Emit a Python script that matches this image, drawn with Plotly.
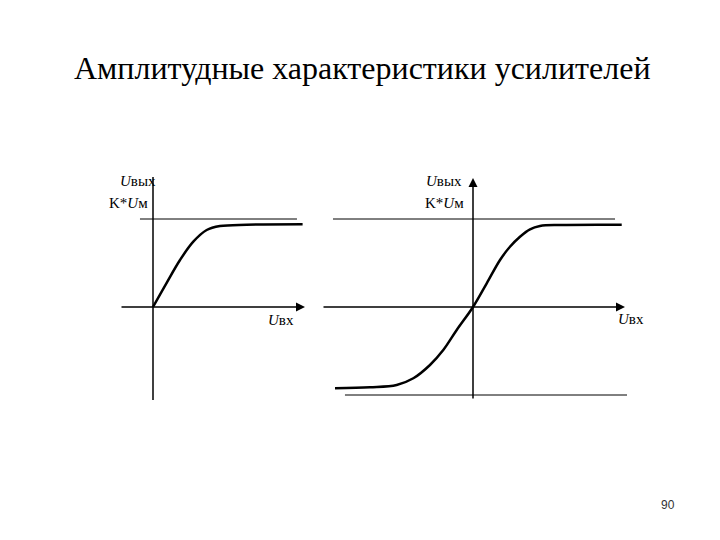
import plotly.graph_objects as go

# ---- data (units: K*Um = 1) ----
title_text = "Амплитудные характеристики усилителей"
page_number = "90"

# left panel: single-sided amplitude characteristic
left_x = [0.0, 0.152, 0.307, 0.458, 0.610, 0.761, 1.064, 1.70]
left_y = [0.0, 0.269, 0.534, 0.742, 0.875, 0.920, 0.935, 0.940]
left_level_x = [-0.148, 1.636]
left_level_y = [1.0, 1.0]

# right panel: symmetric amplitude characteristic
right_x = [-1.568, -1.170, -0.867, -0.678, -0.489, -0.338, -0.185, 0.0,
           0.156, 0.307, 0.420, 0.534, 0.648, 0.761, 0.989, 1.690]
right_y = [-0.924, -0.912, -0.886, -0.810, -0.659, -0.489, -0.261, 0.0,
           0.269, 0.534, 0.685, 0.799, 0.883, 0.920, 0.932, 0.935]
right_top_x = [-1.591, 1.614]
right_top_y = [1.0, 1.0]
right_bot_x = [-1.455, 1.75]
right_bot_y = [-1.0, -1.0]

# axis extents
left_hax = [-0.375, 1.727]
left_vax = [-1.057, 1.477]
right_hax = [-1.716, 1.727]
right_vax = [-1.057, 1.466]

W, H = 720, 540
OFF = 8  # page body margin

def px2paper_x(p):
    return (p - OFF) / W

def px2paper_y(p):
    return 1 - (p - OFF) / H

scale = 88.0
Lx0, Lx1, Ly0, Ly1 = 100, 320, 160, 410
Rx0, Rx1 = 320, 640
ox_L, ox_R, oy = 153, 473, 307

fig = go.Figure()

layout_axes = dict(
    xaxis=dict(domain=[px2paper_x(Lx0), px2paper_x(Lx1)], anchor="y",
               range=[(Lx0 - ox_L) / scale, (Lx1 - ox_L) / scale], visible=False, fixedrange=True),
    yaxis=dict(domain=[px2paper_y(Ly1), px2paper_y(Ly0)], anchor="x",
               range=[(oy - Ly1) / scale, (oy - Ly0) / scale], visible=False, fixedrange=True),
    xaxis2=dict(domain=[px2paper_x(Rx0), px2paper_x(Rx1)], anchor="y2",
                range=[(Rx0 - ox_R) / scale, (Rx1 - ox_R) / scale], visible=False, fixedrange=True),
    yaxis2=dict(domain=[px2paper_y(Ly1), px2paper_y(Ly0)], anchor="x2",
                range=[(oy - Ly1) / scale, (oy - Ly0) / scale], visible=False, fixedrange=True),
)

thin = dict(color="black", width=1)
curve = dict(color="black", width=2.5, shape="spline", smoothing=1.0)

fig.add_trace(go.Scatter(x=left_level_x, y=left_level_y, mode="lines", line=thin, xaxis="x", yaxis="y"))
fig.add_trace(go.Scatter(x=[0, 0], y=left_vax, mode="lines", line=dict(color="black", width=1.5), xaxis="x", yaxis="y"))
fig.add_trace(go.Scatter(x=left_x, y=left_y, mode="lines", line=curve, xaxis="x", yaxis="y"))

fig.add_trace(go.Scatter(x=right_top_x, y=right_top_y, mode="lines", line=thin, xaxis="x2", yaxis="y2"))
fig.add_trace(go.Scatter(x=right_bot_x, y=right_bot_y, mode="lines", line=thin, xaxis="x2", yaxis="y2"))
fig.add_trace(go.Scatter(x=right_x, y=right_y, mode="lines", line=curve, xaxis="x2", yaxis="y2"))

annotations = []

def arrow(xr, yr, x, y, ax, ay):
    return dict(xref=xr, yref=yr, axref=xr, ayref=yr, x=x, y=y, ax=ax, ay=ay,
                text="", showarrow=True, arrowhead=2, arrowsize=1.2, arrowwidth=1.5,
                arrowcolor="black", standoff=0, startstandoff=0)

annotations.append(arrow("x", "y", left_hax[1], 0, left_hax[0], 0))
annotations.append(arrow("x2", "y2", right_hax[1], 0, right_hax[0], 0))
annotations.append(arrow("x2", "y2", 0, right_vax[1], 0, right_vax[0]))

serif = "Liberation Serif"
lab_font = dict(family=serif, size=15, color="black")

def label(xr, yr, x, y, text):
    return dict(xref=xr, yref=yr, x=x, y=y, text=text, showarrow=False,
                font=lab_font, xanchor="center", yanchor="middle")

u_out = "<i>U</i>вых"
k_um = "K*<i>U</i>м"
u_in = "<i>U</i>вх"
annotations += [
    label("x", "y", (138 - ox_L) / scale, (oy - 181) / scale, u_out),
    label("x", "y", (128 - ox_L) / scale, (oy - 203) / scale, k_um),
    label("x", "y", (281 - ox_L) / scale, (oy - 320) / scale, u_in),
    label("x2", "y2", (444 - ox_R) / scale, (oy - 181) / scale, u_out),
    label("x2", "y2", (444 - ox_R) / scale, (oy - 203) / scale, k_um),
    label("x2", "y2", (631 - ox_R) / scale, (oy - 319) / scale, u_in),
]

annotations.append(dict(xref="paper", yref="paper", x=px2paper_x(362), y=px2paper_y(68), text=title_text,
                        showarrow=False, xanchor="center", yanchor="middle",
                        font=dict(family=serif, size=32, color="black")))
annotations.append(dict(xref="paper", yref="paper", x=px2paper_x(668), y=px2paper_y(505),
                        text=page_number, showarrow=False, xanchor="center", yanchor="middle",
                        font=dict(family="Liberation Sans", size=12, color="#333")))

fig.update_layout(
    width=W, height=H, margin=dict(l=0, r=0, t=0, b=0),
    paper_bgcolor="white", plot_bgcolor="white", showlegend=False,
    annotations=annotations, **layout_axes,
)

fig.write_html("out.html", config={"displayModeBar": False})
